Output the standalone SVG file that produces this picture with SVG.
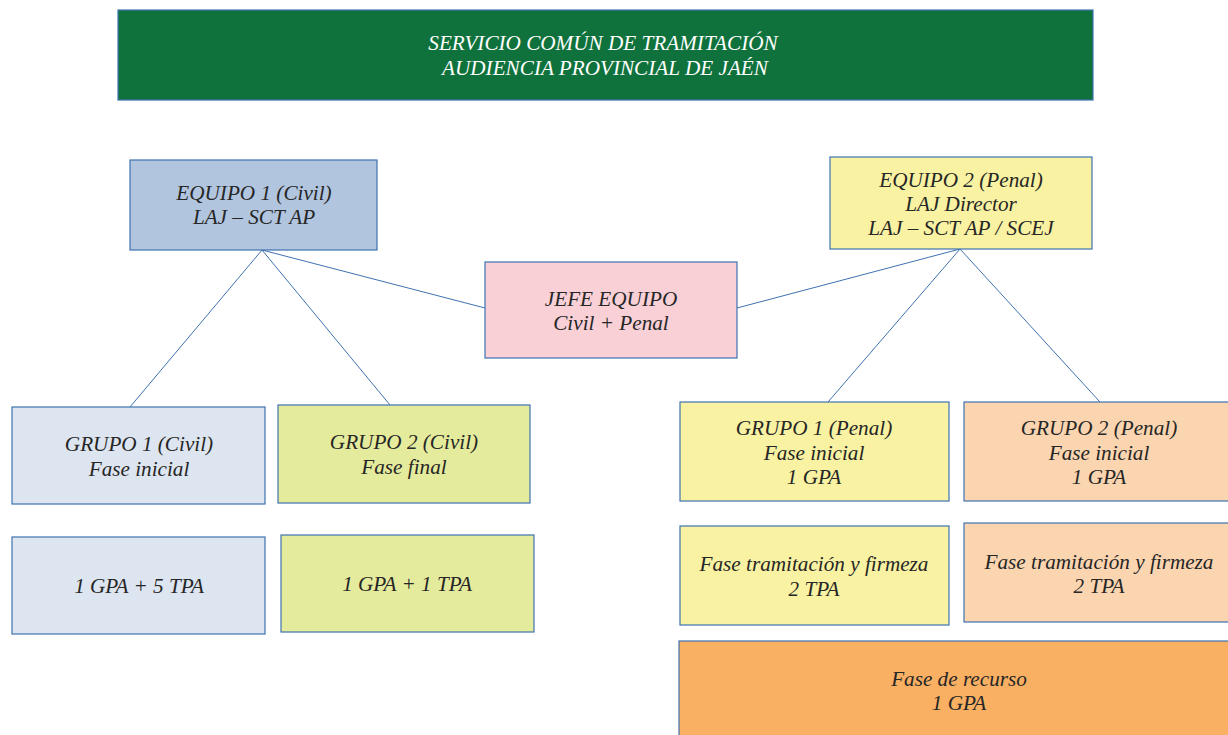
<svg xmlns="http://www.w3.org/2000/svg" width="1228" height="735" viewBox="0 0 1228 735">
<style>
  .box { stroke: #3f72b0; stroke-width: 1.2; }
  .t { font-family: "Liberation Serif", "DejaVu Serif", serif; font-style: italic; font-size: 21.2px; fill: #262626; text-anchor: middle; }
  .w { fill: #ffffff; }
  .edge { stroke: #3f72b0; stroke-width: 1; fill: none; }
</style>
<rect width="1228" height="735" fill="#ffffff"/>
<g id="connectors">
  <line class="edge" x1="262" y1="250" x2="130" y2="407"/>
  <line class="edge" x1="262" y1="250" x2="390" y2="405"/>
  <line class="edge" x1="262" y1="250" x2="485" y2="308"/>
  <line class="edge" x1="960" y1="249" x2="737" y2="308"/>
  <line class="edge" x1="960" y1="249" x2="828" y2="402"/>
  <line class="edge" x1="960" y1="249" x2="1100" y2="402"/>
</g>
<g id="title">
  <rect class="box" x="118" y="10" width="975" height="90" fill="#0f723c"/>
  <text class="t w" x="603" y="50">SERVICIO COMÚN DE TRAMITACIÓN</text>
  <text class="t w" x="605" y="75">AUDIENCIA PROVINCIAL DE JAÉN</text>
</g>
<g id="equipo1">
  <rect class="box" x="130" y="160" width="247" height="90" fill="#b2c5df"/>
  <text class="t" x="254" y="200">EQUIPO 1 (Civil)</text>
  <text class="t" x="254" y="224">LAJ – SCT AP</text>
</g>
<g id="equipo2">
  <rect class="box" x="830" y="157" width="262" height="92" fill="#f8f2a2"/>
  <text class="t" x="961" y="187">EQUIPO 2 (Penal)</text>
  <text class="t" x="961" y="211">LAJ Director</text>
  <text class="t" x="961" y="235">LAJ – SCT AP / SCEJ</text>
</g>
<g id="jefe">
  <rect class="box" x="485" y="262" width="252" height="96" fill="#f8d0d6"/>
  <text class="t" x="611" y="306">JEFE EQUIPO</text>
  <text class="t" x="611" y="330">Civil + Penal</text>
</g>
<g id="grupo1civil">
  <rect class="box" x="12" y="407" width="253" height="97" fill="#dde5f0"/>
  <text class="t" x="139" y="451">GRUPO 1 (Civil)</text>
  <text class="t" x="139" y="476">Fase inicial</text>
</g>
<g id="grupo2civil">
  <rect class="box" x="278" y="405" width="252" height="98" fill="#e5eb9d"/>
  <text class="t" x="404" y="449">GRUPO 2 (Civil)</text>
  <text class="t" x="404" y="474">Fase final</text>
</g>
<g id="civil1personal">
  <rect class="box" x="12" y="537" width="253" height="97" fill="#dde5f0"/>
  <text class="t" x="139" y="593">1 GPA + 5 TPA</text>
</g>
<g id="civil2personal">
  <rect class="box" x="281" y="535" width="253" height="97" fill="#e5eb9d"/>
  <text class="t" x="407" y="591">1 GPA + 1 TPA</text>
</g>
<g id="grupo1penal">
  <rect class="box" x="680" y="402" width="269" height="99" fill="#f8f2a2"/>
  <text class="t" x="814" y="435">GRUPO 1 (Penal)</text>
  <text class="t" x="814" y="460">Fase inicial</text>
  <text class="t" x="814" y="484">1 GPA</text>
</g>
<g id="grupo2penal">
  <rect class="box" x="964" y="402" width="272" height="99" fill="#fbd5b0"/>
  <text class="t" x="1099" y="435">GRUPO 2 (Penal)</text>
  <text class="t" x="1099" y="460">Fase inicial</text>
  <text class="t" x="1099" y="484">1 GPA</text>
</g>
<g id="tramitacion1">
  <rect class="box" x="680" y="526" width="269" height="99" fill="#f8f2a2"/>
  <text class="t" x="814" y="571">Fase tramitación y firmeza</text>
  <text class="t" x="814" y="596">2 TPA</text>
</g>
<g id="tramitacion2">
  <rect class="box" x="964" y="523" width="272" height="99" fill="#fbd5b0"/>
  <text class="t" x="1099" y="569">Fase tramitación y firmeza</text>
  <text class="t" x="1099" y="593">2 TPA</text>
</g>
<g id="recurso">
  <rect class="box" x="679" y="641" width="560" height="100" fill="#f9b063"/>
  <text class="t" x="959" y="686">Fase de recurso</text>
  <text class="t" x="959" y="710">1 GPA</text>
</g>
</svg>
